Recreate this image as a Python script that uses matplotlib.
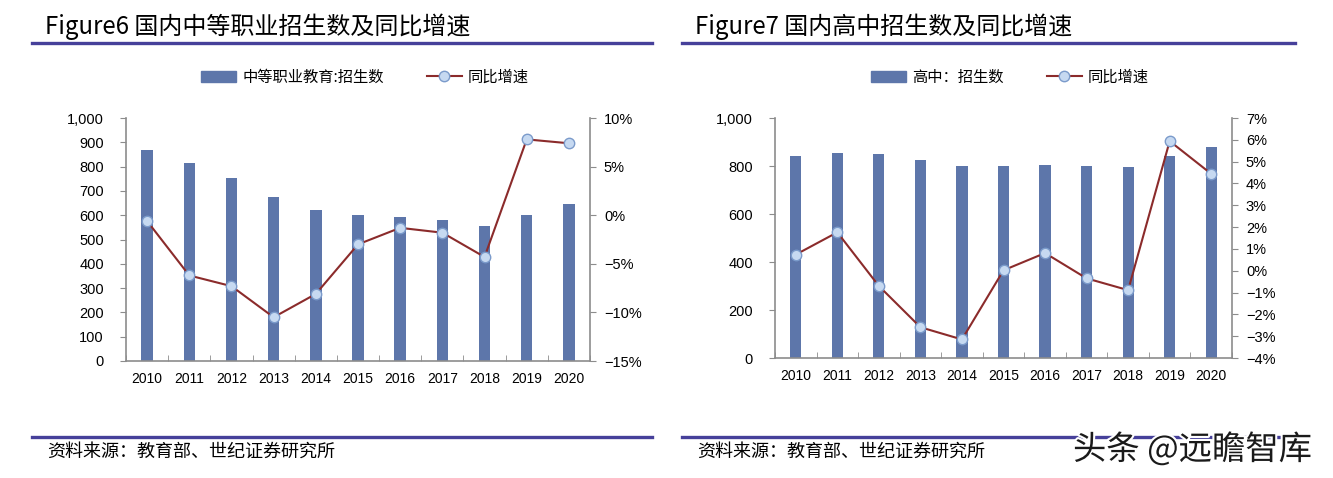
import numpy as np
import matplotlib
matplotlib.use("Agg")
import matplotlib.pyplot as plt
from matplotlib.lines import Line2D
from matplotlib.patches import Patch
from matplotlib.ticker import FuncFormatter, MultipleLocator
import matplotlib.patheffects as pe

plt.rcParams['font.family'] = ['Liberation Sans', 'Noto Sans CJK SC', 'DejaVu Sans']

# data
years = [str(y) for y in range(2010, 2021)]
voc_enroll = [868, 814, 755, 675, 620, 601, 593, 582, 557, 600, 645]
voc_yoy = [-0.6, -6.2, -7.3, -10.5, -8.1, -3.0, -1.3, -1.8, -4.3, 7.8, 7.4]
hs_enroll = [840, 855, 848, 824, 799, 799, 805, 802, 795, 841, 879]
hs_yoy = [0.74, 1.76, -0.70, -2.59, -3.15, 0.02, 0.81, -0.35, -0.89, 5.94, 4.44]

BAR = '#5D76AA'
LINE = '#8B2B2B'
MK_FACE = '#C6D9F1'
MK_EDGE = '#7B9BCB'
PURPLE = '#46409A'
SPINE = '#8C8C8C'
CJK = ['Noto Sans CJK SC', 'DejaVu Sans']

W, H = 1333, 478
fig = plt.figure(figsize=(W / 100, H / 100), dpi=100)


def fx(px):
    return px / W


def fy(py):
    return 1 - py / H


def pct(v, pos):
    s = '%d%%' % round(v)
    return s.replace('-', '\u2212')


def draw_panel(left, right, top, bottom, bars, yoy, ylim2, step2, lstep, title, bar_label,
               title_x, rule_x0, rule_x1, leg_x):
    ax = fig.add_axes([fx(left), fy(bottom), fx(right - left), (bottom - top) / H])
    x = np.arange(len(years))
    ax.bar(x, bars, width=0.27, color=BAR, zorder=2)
    ax.set_xlim(-0.5, len(years) - 0.5)
    ax.set_ylim(0, 1000)
    ax.yaxis.set_major_locator(MultipleLocator(lstep))
    ax.yaxis.set_major_formatter(FuncFormatter(lambda v, p: '{:,.0f}'.format(v)))
    ax.set_xticks(x)
    ax.set_xticklabels(years)
    ax.set_xticks(np.arange(-0.5, len(years)), minor=True)
    ax.tick_params(axis='x', which='major', length=0, pad=8, labelsize=10)
    ax.tick_params(axis='x', which='minor', length=4, direction='in', color=SPINE)
    ax.tick_params(axis='y', length=4, color=SPINE, pad=12, labelsize=10.5)
    for s in ['top', 'right']:
        ax.spines[s].set_visible(False)
    for s in ['left', 'bottom']:
        ax.spines[s].set_color(SPINE)
        ax.spines[s].set_linewidth(1.2)

    ax2 = ax.twinx()
    ax2.plot(x, yoy, color=LINE, lw=1.5, marker='o', ms=7.5,
             mfc=MK_FACE, mec=MK_EDGE, mew=1, zorder=3)
    ax2.set_ylim(*ylim2)
    ax2.yaxis.set_major_locator(MultipleLocator(step2))
    ax2.yaxis.set_major_formatter(FuncFormatter(pct))
    ax2.tick_params(axis='y', length=4, color=SPINE, pad=6, labelsize=10.5)
    for s in ['top', 'left', 'bottom']:
        ax2.spines[s].set_visible(False)
    ax2.spines['right'].set_color(SPINE)
    ax2.spines['right'].set_linewidth(1.2)

    # title and rules
    fig.text(fx(title_x), fy(27), title, fontsize=17.3, family=CJK, va='center', ha='left')
    fig.add_artist(Line2D([fx(rule_x0), fx(rule_x1)], [fy(43), fy(43)], color=PURPLE, lw=2.4))
    fig.add_artist(Line2D([fx(rule_x0), fx(rule_x1)], [fy(437), fy(437)], color=PURPLE, lw=2.4))
    fig.text(fx(title_x + 2), fy(452), '资料来源：教育部、世纪证券研究所', fontsize=13,
             family=CJK, va='center', ha='left')

    handles = [Patch(color=BAR),
               Line2D([0], [0], color=LINE, lw=1.5, marker='o', ms=7.5,
                      mfc=MK_FACE, mec=MK_EDGE)]
    fig.legend(handles, [bar_label, '同比增速'], loc='center', ncol=2,
               bbox_to_anchor=(fx(leg_x), fy(77)), frameon=False,
               prop={'family': CJK, 'size': 11}, handlelength=2.3,
               columnspacing=2.8, handletextpad=0.4)


draw_panel(126, 590, 118, 361, voc_enroll, voc_yoy, (-15, 10), 5, 100,
           'Figure6 国内中等职业招生数及同比增速', '中等职业教育:招生数',
           45, 32, 652, 365)
draw_panel(775, 1232, 118, 358, hs_enroll, hs_yoy, (-4, 7), 1, 200,
           'Figure7 国内高中招生数及同比增速', '高中：招生数',
           695, 682, 1295, 1010)

fig.text(fx(1073), fy(450), '头条 @远瞻智库', fontsize=24, family=CJK, color='#1a1a1a',
         va='center', ha='left',
         path_effects=[pe.withStroke(linewidth=3, foreground='white')])

fig.savefig('out.png', dpi=100)
